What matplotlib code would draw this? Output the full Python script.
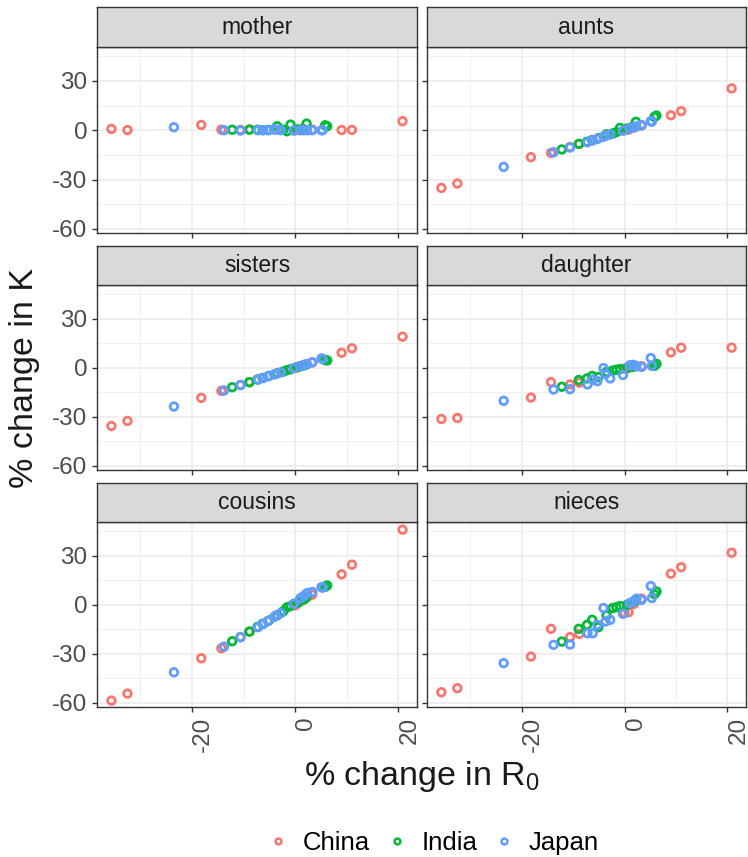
import matplotlib
matplotlib.use("Agg")
import matplotlib.pyplot as plt
from matplotlib.lines import Line2D

plt.rcParams['font.family'] = ['Liberation Sans', 'DejaVu Sans']
plt.rcParams['axes.unicode_minus'] = False
plt.rcParams['mathtext.fontset'] = 'custom'
plt.rcParams['mathtext.rm'] = 'Liberation Sans'

panels = ['mother', 'aunts', 'sisters', 'daughter', 'cousins', 'nieces']
countries = ['China', 'India', 'Japan']
colors = {'China': '#F8766D', 'India': '#00BA38', 'Japan': '#619CFF'}

# % change in R0 per point
china_r0 = [-35.6, -32.5, -18.2, -14.3, -10.6, -8.8, 0.0, 0.8, 1.8, 3.3, 9.0, 11.0, 20.8]
india_r0 = [-12.2, -8.9, -7.3, -6.3, -5.1, -3.5, -2.3, -1.6, -0.9, 0.5, 1.5, 2.2, 5.8, 6.2]
japan_r0 = [-23.5, -13.8, -10.6, -7.2, -6.2, -5.3, -4.1, -3.7, -2.8, -0.3, 1.0, 1.7, 2.3, 3.3, 5.1, 5.3]

# % change in K, per kin type
china_k = {
    'mother':   [0.8, 0.1, 3.2, 0.3, 0.2, 0.5, 0.0, 0.1, 0.2, 0.4, 0.1, 0.2, 5.5],
    'aunts':    [-35.1, -32.4, -16.4, -13.8, -10.2, -8.3, 0.0, 0.4, 1.5, 2.8, 9.1, 11.6, 25.4],
    'sisters':  [-35.6, -32.5, -18.4, -14.1, -10.5, -8.8, 0.0, 0.8, 1.8, 3.3, 9.2, 11.9, 19.0],
    'daughter': [-31.3, -30.7, -18.2, -8.8, -10.2, -9.1, -0.5, 0.0, 0.8, 1.0, 9.4, 12.3, 12.3],
    'cousins':  [-58.6, -54.3, -32.7, -26.6, -19.8, -16.4, -0.3, 1.6, 3.4, 6.2, 18.6, 24.5, 45.9],
    'nieces':   [-53.5, -51.0, -31.7, -14.7, -19.8, -17.8, -5.0, -4.5, 0.5, 3.7, 19.0, 23.0, 31.8],
}
india_k = {
    'mother':   [0.3, 0.3, 0.3, 0.1, 0.2, 2.4, 0.3, -0.6, 3.4, 0.5, 0.8, 4.0, 3.0, 2.4],
    'aunts':    [-11.7, -8.3, -7.0, -6.0, -4.8, -2.5, -2.0, -1.2, 1.4, 1.0, 2.0, 5.1, 8.1, 8.9],
    'sisters':  [-11.9, -8.8, -7.2, -6.2, -5.0, -3.4, -2.3, -1.5, -0.9, 0.4, 1.3, 2.0, 4.7, 4.5],
    'daughter': [-11.6, -7.5, -6.5, -5.0, -5.7, -2.5, -1.7, -1.2, -0.8, -0.2, 0.5, 1.0, 1.2, 2.4],
    'cousins':  [-22.3, -16.4, -13.5, -11.6, -9.6, -6.5, -4.0, -1.6, -0.8, 1.2, 3.0, 4.5, 11.0, 11.8],
    'nieces':   [-22.5, -14.7, -12.3, -9.2, -13.7, -6.5, -2.0, -1.5, -0.8, 0.0, 1.5, 2.5, 6.5, 8.1],
}
japan_k = {
    'mother':   [1.8, 0.0, -0.2, 0.0, 0.0, 0.0, 0.5, 0.3, 0.0, -0.2, 0.0, 0.0, 0.0, 0.0, 0.0, 0.0],
    'aunts':    [-22.3, -13.4, -10.5, -7.3, -6.2, -5.3, -4.0, -3.4, -2.7, -0.3, 1.2, 1.8, 2.3, 3.2, 5.5, 5.2],
    'sisters':  [-23.7, -13.9, -10.6, -7.2, -6.3, -5.3, -4.1, -3.7, -2.8, -0.3, 1.0, 1.7, 2.3, 3.3, 5.7, 5.4],
    'daughter': [-20.2, -13.3, -13.1, -10.2, -7.2, -8.2, -0.2, -3.9, -6.5, -4.4, 1.5, 1.8, 0.9, 0.5, 5.9, 1.2],
    'cousins':  [-41.3, -25.6, -19.8, -13.7, -11.8, -10.0, -7.5, -6.5, -5.1, 0.6, 4.0, 5.5, 7.1, 7.8, 10.8, 10.5],
    'nieces':   [-35.7, -24.5, -24.3, -17.4, -17.4, -12.3, -2.0, -10.2, -9.2, -5.5, 1.0, 2.0, 3.7, 3.0, 11.4, 4.1],
}

r0 = {'China': china_r0, 'India': india_r0, 'Japan': japan_r0}
kin = {'China': china_k, 'India': india_k, 'Japan': japan_k}

W, H = 748, 857
fig = plt.figure(figsize=(W / 100, H / 100), dpi=100)

cols = [(97, 417), (427, 746)]
rows = [(7, 47, 233), (246, 285, 470), (483, 522, 707)]  # strip top, panel top, panel bottom


def rect(x0, x1, y0, y1):
    return [x0 / W, 1 - y1 / H, (x1 - x0) / W, (y1 - y0) / H]


for i, name in enumerate(panels):
    r, c = divmod(i, 2)
    x0, x1 = cols[c]
    st, pt, pb = rows[r]

    ax = fig.add_axes(rect(x0, x1, pt, pb))
    ax.set_facecolor('white')
    ax.set_xlim(-38.4, 23.6)
    ax.set_ylim(-62.5, 50.6)
    ax.set_xticks([-20, 0, 20])
    ax.set_xticks([-30, -10, 10], minor=True)
    ax.set_yticks([-60, -30, 0, 30])
    ax.set_yticks([-45, -15, 15, 45], minor=True)
    ax.grid(True, which='major', color='#EBEBEB', lw=1.1)
    ax.grid(True, which='minor', color='#EBEBEB', lw=0.55)
    ax.set_axisbelow(True)
    for s in ax.spines.values():
        s.set_color('#333333')
        s.set_linewidth(1.0)
    ax.tick_params(which='major', length=3.6, width=1.0, color='#333333', pad=3.5,
                   labelsize=17.5, labelcolor='#4D4D4D')
    ax.tick_params(which='minor', length=0)
    ax.tick_params(axis='x', labelrotation=90)
    for lbl in ax.get_xticklabels():
        lbl.set_horizontalalignment('left')
    if r < 2:
        ax.tick_params(axis='x', labelbottom=False)
    if c == 1:
        ax.tick_params(axis='y', labelleft=False)

    for cn in countries:
        ax.scatter(r0[cn], kin[cn][name], s=30, facecolors='none',
                   edgecolors=colors[cn], linewidths=2.0, zorder=3)

    sax = fig.add_axes(rect(x0, x1, st, pt))
    sax.set_facecolor('#D9D9D9')
    sax.set_xticks([])
    sax.set_yticks([])
    for s in sax.spines.values():
        s.set_color('#333333')
        s.set_linewidth(1.0)
    sax.text(0.5, 0.5, name, ha='center', va='center', fontsize=16.5,
             color='#1A1A1A', transform=sax.transAxes)

fig.text(25 / W, 1 - 378 / H, '% change in K', rotation=90, ha='center',
         va='center', fontsize=24.5, color='#1A1A1A')
fig.text(422 / W, 1 - 776 / H, '% change in R$_0$', ha='center',
         va='center', fontsize=24.5, color='#1A1A1A')

handles = [Line2D([], [], ls='none', marker='o', ms=4.2, mfc='none',
                  mec=colors[cn], mew=1.8, label=cn) for cn in countries]
fig.legend(handles=handles, loc='center', bbox_to_anchor=(432 / W, 1 - 843 / H),
           ncol=3, frameon=False, fontsize=18.5, handletextpad=0.45,
           columnspacing=0.55, handlelength=1.0, borderpad=0)

fig.savefig('out.png', dpi=100)
